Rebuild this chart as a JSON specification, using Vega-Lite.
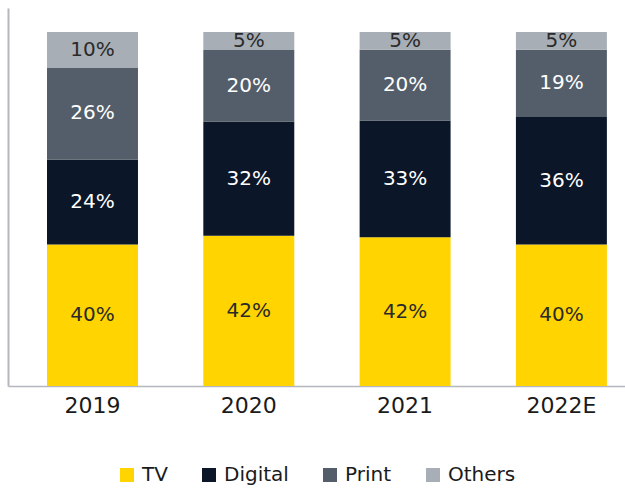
{
  "$schema": "https://vega.github.io/schema/vega-lite/v6.json",
  "width": 617,
  "height": 378,
  "autosize": {"type": "none"},
  "padding": {"left": 8, "top": 8, "right": 0, "bottom": 102},
  "background": "white",
  "config": {"view": {"stroke": null}, "font": "DejaVu Sans"},
  "data": {
    "values": [
      {"year": "2019", "series": "TV", "k": 1, "v": 0.40},
      {"year": "2019", "series": "Digital", "k": 2, "v": 0.24},
      {"year": "2019", "series": "Print", "k": 3, "v": 0.26},
      {"year": "2019", "series": "Others", "k": 4, "v": 0.10},
      {"year": "2020", "series": "TV", "k": 1, "v": 0.42},
      {"year": "2020", "series": "Digital", "k": 2, "v": 0.32},
      {"year": "2020", "series": "Print", "k": 3, "v": 0.20},
      {"year": "2020", "series": "Others", "k": 4, "v": 0.05},
      {"year": "2021", "series": "TV", "k": 1, "v": 0.42},
      {"year": "2021", "series": "Digital", "k": 2, "v": 0.33},
      {"year": "2021", "series": "Print", "k": 3, "v": 0.20},
      {"year": "2021", "series": "Others", "k": 4, "v": 0.05},
      {"year": "2022E", "series": "TV", "k": 1, "v": 0.40},
      {"year": "2022E", "series": "Digital", "k": 2, "v": 0.36},
      {"year": "2022E", "series": "Print", "k": 3, "v": 0.19},
      {"year": "2022E", "series": "Others", "k": 4, "v": 0.05}
    ]
  },
  "encoding": {
    "x": {
      "field": "year", "type": "nominal", "sort": null,
      "scale": {"paddingInner": 0.418, "paddingOuter": 0.1827, "align": 0.683},
      "axis": {"title": null, "labelAngle": 0, "domainColor": "#b4b8be", "domainWidth": 1.5, "ticks": false,
               "labelFontSize": 22, "labelColor": "#1a1a1a", "labelPadding": 9}
    },
    "order": {"field": "k", "type": "quantitative"}
  },
  "layer": [
    {
      "mark": {"type": "bar"},
      "encoding": {
        "y": {"field": "v", "type": "quantitative", "stack": "normalize",
              "scale": {"domain": [0, 1.068], "nice": false},
              "axis": {"title": null, "labels": false, "ticks": false, "grid": false, "domainColor": "#b4b8be", "domainWidth": 2}},
        "color": {
          "field": "series", "type": "nominal",
          "sort": ["TV", "Digital", "Print", "Others"],
          "scale": {"domain": ["TV", "Digital", "Print", "Others"], "range": ["#FFD400", "#0B1628", "#545E6A", "#A8AEB5"]},
          "legend": {"title": null, "orient": "none", "direction": "horizontal", "legendX": 109, "legendY": 457,
                     "symbolType": "square", "symbolSize": 196, "symbolStrokeWidth": 0, "labelFontSize": 20,
                     "labelColor": "#1a1a1a", "labelOffset": 5, "columnPadding": 31}
        }
      }
    },
    {
      "mark": {"type": "text", "fontSize": 20},
      "encoding": {
        "y": {"field": "v", "type": "quantitative", "stack": "normalize", "bandPosition": 0.5},
        "detail": {"field": "series"},
        "text": {"field": "v", "type": "quantitative", "format": ".0%"},
        "color": {"condition": {"test": "datum.series === 'TV' || datum.series === 'Others'", "value": "#2a2a2a"}, "value": "#ffffff"}
      }
    }
  ]
}
